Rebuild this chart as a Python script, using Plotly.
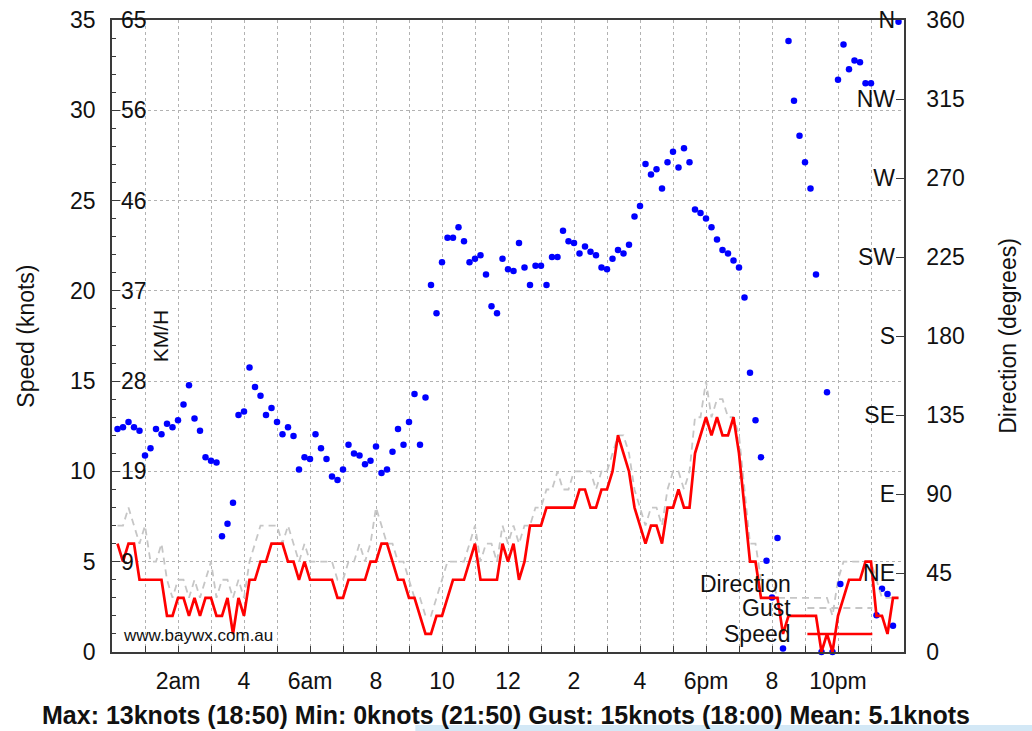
import plotly.graph_objects as go

# ---- data (10-minute records from 00:10 to 23:50) ----
speed = [6, 5, 6, 6, 4, 4, 4, 4, 4, 2,
         2, 3, 3, 2, 3, 2, 3, 3, 2, 2,
         3, 1, 3, 2, 4, 4, 5, 5, 6, 6,
         6, 5, 5, 4, 5, 4, 4, 4, 4, 4,
         3, 3, 4, 4, 4, 4, 5, 5, 6, 6,
         5, 4, 4, 3, 3, 2, 1, 1, 2, 2,
         3, 4, 4, 4, 5, 6, 4, 4, 4, 4,
         6, 5, 6, 4, 5, 7, 7, 7, 8, 8,
         8, 8, 8, 8, 9, 9, 8, 8, 9, 9,
         10, 12, 11, 10, 8, 7, 6, 7, 7, 6,
         8, 8, 9, 8, 8, 11, 12, 13, 12, 13,
         12, 12, 13, 11, 8, 5, 5, 3, 3, 3,
         3, 1, 2, 2, 2, 2, 2, 2, 0, 1,
         0, 2, 3, 4, 4, 4, 5, 5, 2, 2,
         1, 3, 3]

gust = [7, 7, 8, 7, 6, 7, 5, 5, 6, 4,
        3, 4, 4, 3, 4, 3, 4, 5, 3, 4,
        4, 3, 4, 3, 5, 6, 7, 7, 7, 7,
        6, 7, 6, 5, 6, 5, 5, 5, 5, 5,
        4, 4, 5, 5, 6, 5, 6, 8, 7, 6,
        6, 5, 5, 4, 3, 3, 2, 2, 3, 4,
        5, 5, 5, 5, 6, 7, 5, 6, 6, 5,
        7, 6, 7, 6, 7, 7, 8, 8, 9, 9,
        10, 9, 9, 10, 10, 10, 10, 9, 10, 10,
        11, 12, 12, 11, 9, 8, 7, 8, 8, 7,
        9, 10, 10, 9, 10, 13, 13, 15, 13, 14,
        14, 13, 13, 12, 9, 6, 6, 4, 4, 4,
        3, 3, 3, 3, 3, 3, 3, 3, 3, 3,
        2, 4, 5, 5, 5, 5, 5, 5, 4, 3,
        3, 3, 3]

direction = [127, 128, 131, 128, 126, 112, 116, 127, 124, 130,
             128, 132, 141, 152, 133, 126, 111, 109, 108, 66,
             73, 85, 135, 137, 162, 151, 146, 135, 139, 131,
             124, 128, 123, 104, 111, 110, 124, 116, 110, 100,
             98, 104, 118, 113, 112, 107, 109, 117, 102, 104,
             114, 127, 118, 131, 147, 118, 145, 209, 193, 222,
             236, 236, 242, 234, 222, 224, 226, 215, 197, 193,
             224, 218, 217, 233, 219, 209, 220, 220, 209, 225,
             225, 240, 234, 233, 227, 231, 228, 226, 219, 218,
             224, 229, 227, 232, 248, 254, 278, 272, 275, 264,
             279, 285, 276, 287, 279, 252, 250, 247, 242, 235,
             229, 227, 223, 219, 202, 159, 132, 111, 52, 31,
             65, 2, 348, 314, 294, 279, 264, 215, 0, 148,
             0, 326, 346, 332, 337, 336, 324, 324, 21, 36,
             33, 15, 359]

hours = [i / 6 for i in range(1, len(speed) + 1)]

x_ticks = list(range(0, 25))
x_labels = ['', '', '2am', '', '4', '', '6am', '', '8', '', '10', '', '12',
            '', '2', '', '4', '', '6pm', '', '8', '', '10pm', '', '']
speed_ticks = [0, 5, 10, 15, 20, 25, 30, 35]
kmh_ticks = [5, 10, 15, 20, 25, 30, 35]
kmh_labels = ['9', '19', '28', '37', '46', '56', '65']
dir_ticks = [0, 45, 90, 135, 180, 225, 270, 315, 360]
compass_labels = ['', 'NE', 'E', 'SE', 'S', 'SW', 'W', 'NW', 'N']
summary = "Max: 13knots (18:50) Min: 0knots (21:50) Gust: 15knots (18:00) Mean: 5.1knots"

FONT = "Liberation Sans, Arial, Helvetica, sans-serif"
AXIS = '#3a3a3a'
GRID = '#b2b2b2'

fig = go.Figure()
fig.add_trace(go.Scatter(x=hours, y=direction, yaxis='y', mode='markers',
                         marker=dict(color='#0000ff', size=6.5, line=dict(width=0)),
                         cliponaxis=False, name='Direction', showlegend=False))
fig.add_trace(go.Scatter(x=hours, y=gust, yaxis='y2', mode='lines',
                         line=dict(color='#c6c6c6', width=1.8, dash='7px,5px'),
                         name='Gust', showlegend=False))
fig.add_trace(go.Scatter(x=hours, y=speed, yaxis='y2', mode='lines',
                         line=dict(color='#ff0000', width=2.7),
                         name='Speed', showlegend=False))
fig.add_trace(go.Scatter(x=[], y=[], yaxis='y3', showlegend=False, hoverinfo='skip'))
fig.add_trace(go.Scatter(x=[], y=[], yaxis='y4', showlegend=False, hoverinfo='skip'))

tickfont = dict(family=FONT, size=23, color='#111')

fig.update_layout(
    width=1032, height=731,
    margin=dict(l=112, r=128, t=20, b=79, pad=0),
    paper_bgcolor='white', plot_bgcolor='white',
    font=dict(family=FONT, size=23, color='#111'),
    showlegend=False,
    xaxis=dict(range=[0, 24], tickvals=x_ticks, ticktext=x_labels,
               ticks='inside', ticklen=6, tickcolor=AXIS, tickwidth=1,
               showgrid=True, gridcolor=GRID, griddash='3px,3px', gridwidth=1,
               showline=True, linecolor=AXIS, linewidth=1.5, mirror=True,
               zeroline=False, tickfont=tickfont, ticklabelstandoff=8,
               automargin=False),
    yaxis=dict(range=[0, 360], side='right', tickvals=dir_ticks,
               ticks='inside', ticklen=8, tickcolor=AXIS,
               showgrid=False, zeroline=False, showline=True,
               linecolor=AXIS, linewidth=1.5, tickfont=tickfont,
               ticklabelstandoff=16, automargin=False),
    yaxis2=dict(range=[0, 35], side='left', overlaying='y', tickvals=speed_ticks,
                ticks='inside', ticklen=8, tickcolor=AXIS,
                minor=dict(ticks='inside', ticklen=4, dtick=1, tickcolor=AXIS, showgrid=False),
                showgrid=True, gridcolor=GRID, griddash='3px,3px', gridwidth=1,
                zeroline=False, showline=True, linecolor=AXIS, linewidth=1.5,
                tickfont=tickfont, ticklabelstandoff=10, automargin=False),
    yaxis3=dict(range=[0, 360], side='right', overlaying='y', tickvals=dir_ticks,
                ticktext=compass_labels, ticklabelposition='inside',
                ticklabeloverflow='allow', ticks='', showgrid=False,
                zeroline=False, showline=False, tickfont=tickfont,
                ticklabelstandoff=6, automargin=False),
    yaxis4=dict(range=[0, 35], side='left', overlaying='y', tickvals=kmh_ticks,
                ticktext=kmh_labels, ticklabelposition='inside',
                ticklabeloverflow='allow', ticks='', showgrid=False,
                zeroline=False, showline=False, tickfont=tickfont,
                ticklabelstandoff=6, automargin=False),
)

anns = [
    dict(text='Speed (knots)', x=-0.109, y=0.5, textangle=-90),
    dict(text='Direction (degrees)', x=1.131, y=0.5, textangle=-90),
    dict(text='KM/H', x=0.061, y=0.5, textangle=-90, font=dict(size=21)),
    dict(text='www.baywx.com.au', x=0.011, y=0.026, xanchor='left',
         font=dict(size=17)),
    dict(text='<b>' + summary + '</b>', x=0.497, y=-0.1, font=dict(size=25)),
    dict(text='Direction', x=0.8597, y=0.1076, xanchor='right', font=dict(size=23)),
    dict(text='Gust', x=0.8597, y=0.0696, xanchor='right', font=dict(size=23)),
    dict(text='Speed', x=0.8597, y=0.0285, xanchor='right', font=dict(size=23)),
]
for a in anns:
    base = dict(xref='paper', yref='paper', showarrow=False, xanchor='center',
                yanchor='middle', font=dict(family=FONT, size=23, color='#111'))
    f = dict(base['font'])
    f.update(a.pop('font', {}))
    base.update(a)
    base['font'] = f
    fig.add_annotation(**base)

# legend samples and decorative strip
fig.add_shape(type='circle', xref='paper', yref='paper', xsizemode='pixel',
              ysizemode='pixel', xanchor=0.9197, yanchor=0.1076,
              x0=-3.2, x1=3.2, y0=-3.2, y1=3.2,
              fillcolor='#0000ff', line=dict(width=0))
fig.add_shape(type='line', xref='paper', yref='paper', x0=0.878, x1=0.960,
              y0=0.0696, y1=0.0696, line=dict(color='#c6c6c6', width=1.8, dash='7px,5px'))
fig.add_shape(type='line', xref='paper', yref='paper', x0=0.878, x1=0.960,
              y0=0.0285, y1=0.0285, line=dict(color='#ff0000', width=2.7))
fig.add_shape(type='rect', xref='paper', yref='paper', x0=0.383, x1=1.162,
              y0=-0.126, y1=-0.1155, fillcolor='#d3e8f6', line=dict(width=0),
              layer='above')

fig.write_html("out.html", include_plotlyjs=True,
               config={'displayModeBar': False},
               post_script="document.body.style.margin='0';document.body.style.overflow='hidden';")
